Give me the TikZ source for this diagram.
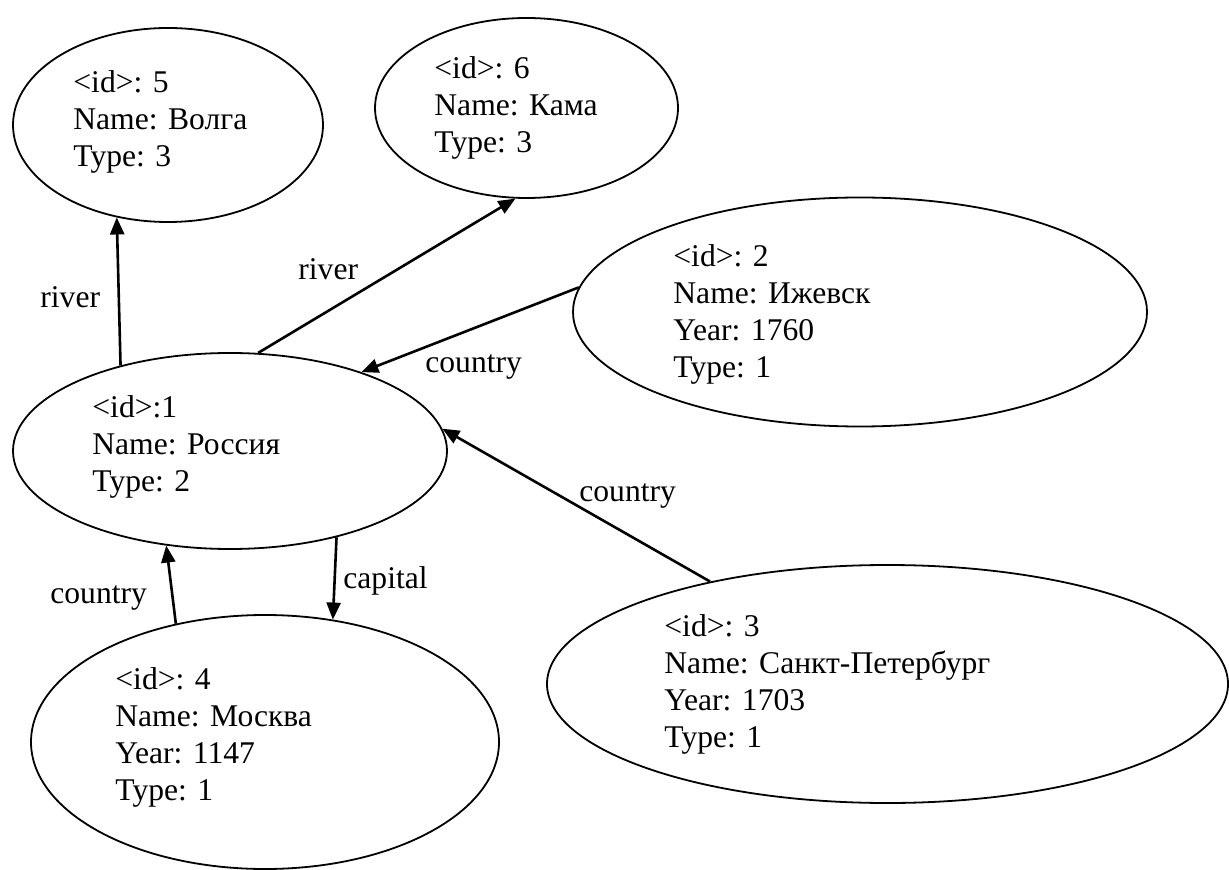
\documentclass[tikz,border=0pt]{standalone}
\usepackage{fontspec}
\setmainfont{Liberation Serif}
\usetikzlibrary{shapes.geometric,arrows.meta}
\begin{document}
\begin{tikzpicture}[x=0.5pt,y=-0.5pt,
  entity/.style={ellipse,draw,line width=0.9pt,inner sep=0pt},
  info/.style={anchor=base west,inner sep=0pt,align=left,font=\fontsize{15.8}{18.5}\selectfont},
  rel/.style={anchor=base west,inner sep=0pt,font=\fontsize{15.8}{18.5}\selectfont},
  link/.style={-{Triangle[length=8.5pt,width=7pt]},line width=1.3pt}]
\useasboundingbox (0,0) rectangle (1229,870);
\fill[white] (0,0) rectangle (1229,870);

% entities
\node[entity,minimum width=155pt,minimum height=97pt] (volga) at (168,125) {};
\node[entity,minimum width=151.5pt,minimum height=90pt] (kama) at (526.5,108) {};
\node[entity,minimum width=287pt,minimum height=114.5pt] (izh) at (860,312) {};
\node[entity,minimum width=217pt,minimum height=98pt] (russia) at (230,451) {};
\node[entity,minimum width=234pt,minimum height=127pt] (moscow) at (265,742) {};
\node[entity,minimum width=340.5pt,minimum height=119pt] (spb) at (887.5,684) {};

% attribute lists (anchored at the baseline of the last line)
\node[info] (volgatxt) at (73,167) {<id>: 5\\Name: Волга\\Type: 3};
\node[info] (kamatxt) at (434,153) {<id>: 6\\Name: Кама\\Type: 3};
\node[info] (izhtxt) at (673,378) {<id>: 2\\Name: Ижевск\\Year: 1760\\Type: 1};
\node[info] (russiatxt) at (92,492) {<id>:1\\Name: Россия\\Type: 2};
\node[info] (moscowtxt) at (115,800) {<id>: 4\\Name: Москва\\Year: 1147\\Type: 1};
\node[info] (spbtxt) at (664,747) {<id>: 3\\Name: Санкт-Петербург\\Year: 1703\\Type: 1};

% relations
\draw[link] (russia.142) -- (volga.241);
\draw[link] (russia.74) -- (kama.263);
\draw[link] (izh.175) -- (russia.31);
\draw[link] (spb.150) -- (russia.6);
\draw[link] (moscow.127) -- (russia.236);
\draw[link] (russia.321) -- (moscow.61);

% relation labels
\node[rel] (lvolga) at (40,308) {river};
\node[rel] (lkama) at (298,280) {river};
\node[rel] (lizh) at (425,373) {country};
\node[rel] (lspb) at (579,502) {country};
\node[rel] (lmoscow) at (50,603) {country};
\node[rel] (lcapital) at (343,588) {capital};
\end{tikzpicture}
\end{document}
